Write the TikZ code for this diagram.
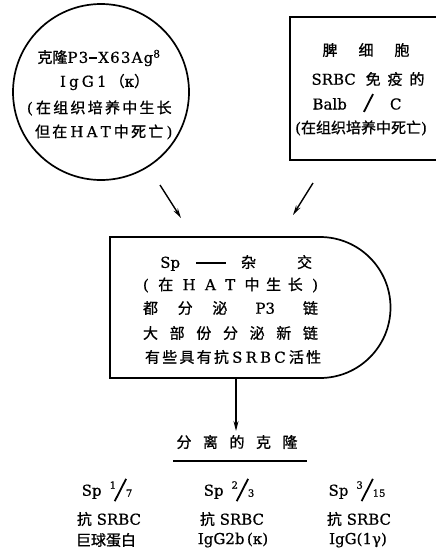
\documentclass[tikz,border=0pt]{standalone}
\usepackage{fontspec}
\setmainfont[FakeBold=0.6]{DejaVu Serif}
\newfontfamily\cjk[FakeBold=0.9]{Noto Sans CJK SC}
\usetikzlibrary{arrows.meta}
\newcommand\z[1]{{\cjk #1}}
\newcommand\spread[2]{\makebox[#1][s]{#2}}
\newcommand\slsh[1]{\raisebox{-5pt}{\rotatebox{-27}{\rule{1.8pt}{#1}}}}
\newcommand\frc[2]{\raisebox{7pt}{\fontsize{10}{10}\selectfont #1}\kern-2pt\slsh{25pt}\kern-1pt\raisebox{-1pt}{\fontsize{10}{10}\selectfont #2}}
\tikzset{
  txt/.style={inner sep=0pt, font=\fontsize{15}{17}\selectfont},
  frame/.style={line width=1.7pt},
  arr/.style={line width=1.4pt,-{Stealth[length=10pt,width=5pt]}},
}
\begin{document}
\begin{tikzpicture}[x=1pt,y=-1pt]
\useasboundingbox (0,0) rectangle (436,552);
\fill[white] (0,0) rectangle (436,552);
\clip (0,0) rectangle (436,552);
% shapes
\draw[frame] (101,92) circle[radius=88pt];
\draw[frame] (290,17) rectangle (452,160);
\draw[frame] (110,237) -- (320,237) arc[start angle=90,end angle=-90,radius=70.5pt] -- (110,378) -- cycle;
% circle text
\node[txt] (c1) at (99,58) {\z{克隆}{\addfontfeature{LetterSpace=8}P3\kern1pt\rule[3.8pt]{8pt}{1.8pt}\kern1pt X63Ag}\textsuperscript{8}};
\node[txt] (c2) at (101,82) {\spread{82pt}{I g G 1 \z{（}κ\z{）}}};
\node[txt] (c3) at (97,108) {\spread{140pt}{( \z{在 组 织 培 养 中 生 长}}};
\node[txt] (c4) at (101,132) {\spread{132pt}{\z{但 在} H A T \z{中 死 亡} )}};
% right box text
\node[txt] (r1) at (366,50) {\spread{87pt}{\z{脾 细 胞}}};
\node[txt] (r2) at (368,79) {\spread{113pt}{SRBC \z{免 疫 的}}};
\node[txt] (r3) at (357,103) {\spread{89pt}{Balb \raisebox{3pt}{\slsh{20pt}} C}};
\node[txt,anchor=west] (r4) at (295,128) {(\z{在组织培养中死亡})};
% middle box text
\node[txt,anchor=west] (m1) at (160,263) {Sp\hspace{16pt}\rule[4pt]{30pt}{1.8pt}\hspace{15pt}\z{杂}\hspace{41pt}\z{交}};
\node[txt] (m2) at (230.5,285) {\spread{175pt}{( \z{在} H A T \z{中 生 长} )}};
\node[txt] (m3) at (230.5,308) {\spread{175pt}{\z{都 分 泌} P3 \z{链}}};
\node[txt] (m4) at (230.5,333) {\spread{175pt}{\z{大 部 份 分 泌 新 链}}};
\node[txt] (m5) at (232.5,357) {\spread{175pt}{\z{有 些 具 有 抗} S R B C \z{活 性}}};
% arrows
\coordinate (a1s) at (160,185); \coordinate (a1e) at (181,218);
\coordinate (a2s) at (313,183); \coordinate (a2e) at (293,215);
\coordinate (a3s) at (236,378); \coordinate (a3e) at (236,431);
\draw[arr] (a1s) -- (a1e);
\draw[arr] (a2s) -- (a2e);
\draw[arr] (a3s) -- (a3e);
% title
\node[txt] (t) at (237,442) {\spread{121pt}{\z{分 离 的 克 隆}}};
\coordinate (u1) at (173,461); \coordinate (u2) at (307,461);
\draw[line width=2.4pt] (u1) -- (u2);
% columns
\node[txt] (s1) at (107,490) {Sp\hspace{8pt}\frc{1}{7}};
\node[txt] (s2) at (229,490) {Sp\hspace{8pt}\frc{2}{3}};
\node[txt] (s3) at (357,490) {Sp\hspace{8pt}\frc{3}{15}};
\node[txt] (k1) at (109,519) {\z{抗} SRBC};
\node[txt] (k2) at (232,519) {\z{抗} SRBC};
\node[txt] (k3) at (359,519) {\z{抗} SRBC};
\node[txt] (g1) at (106,540) {\z{巨球蛋白}};
\node[txt] (g2) at (233,540) {IgG2b\,(κ)};
\node[txt] (g3) at (358,540) {IgG(1γ)};
\end{tikzpicture}
\end{document}
